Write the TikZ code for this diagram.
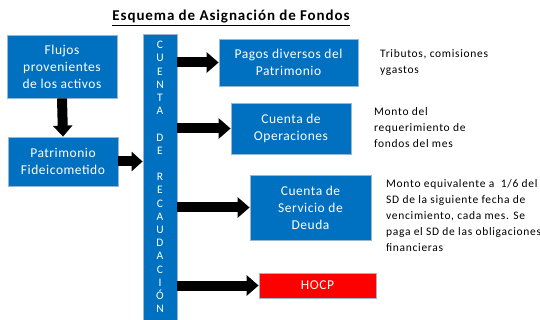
\documentclass[tikz,border=0pt]{standalone}
\usepackage{fontspec}
\setmainfont{Carlito}
\newfontfamily\widebox[LetterSpace=4]{Carlito}
\newfontfamily\widenote[LetterSpace=6]{Carlito}
\usetikzlibrary{arrows.meta}
\definecolor{boxblue}{HTML}{0070C0}
\definecolor{boxline}{HTML}{9DB6CF}
\begin{document}
\begin{tikzpicture}[x=1pt,y=-1pt,
  bluebox/.style={draw=boxline,line width=0.8pt,fill=boxblue,text=white,align=center,inner sep=0pt,
    font=\widebox\fontsize{13.5}{17}\selectfont},
  redbox/.style={draw=boxline,line width=0.8pt,fill=red,text=white,align=center,inner sep=0pt,
    font=\widebox\fontsize{13.5}{17}\selectfont},
  note/.style={anchor=north west,inner sep=0pt,align=left,font=\widenote\fontsize{11.5}{16}\selectfont},
  smallarrow/.style={line width=10pt,-{Triangle[length=11pt,width=19pt]}},
  bigarrow/.style={line width=10pt,-{Triangle[length=12pt,width=20pt]}},
]
\useasboundingbox (0,0) rectangle (540,320);
\node[font=\widenote\bfseries\fontsize{15}{17}\selectfont] (title) at (231,18) {\underline{Esquema de Asignación de Fondos}};
\node[bluebox,minimum width=110pt,minimum height=63pt] (flujos) at (62,66.5) {Flujos\\provenientes\\de los activos};
\node[bluebox,minimum width=110pt,minimum height=49pt] (patr) at (63,161.5) {Patrimonio\\Fideicometido};
\node[bluebox,minimum width=34pt,minimum height=288pt] (col) at (160,178) {};
\node[text=white,align=center,inner sep=0pt,font=\fontsize{11.5}{13.2}\selectfont] (coltext) at (160,177)
  {C\\U\\E\\N\\T\\A\\ \\D\\E\\ \\R\\E\\C\\A\\U\\D\\A\\C\\I\\Ó\\N};
\node[bluebox,minimum width=139pt,minimum height=47pt] (pagos) at (288.5,62.5) {Pagos diversos del\\Patrimonio};
\node[bluebox,minimum width=120pt,minimum height=51pt] (oper) at (291,128.5) {Cuenta de\\Operaciones};
\node[bluebox,minimum width=121pt,minimum height=65pt] (deuda) at (310.5,207.5) {Cuenta de\\Servicio de\\Deuda};
\node[redbox,minimum width=117pt,minimum height=25pt] (hocp) at (317.5,285.5) {HOCP};
\node[note] (n1) at (380,49) {Tributos, comisiones\\ygastos};
\node[note] (n2) at (374,107) {Monto del\\requerimiento de\\fondos del mes};
\node[note] (n3) at (386,179) {Monto equivalente a \ 1/6 del\\SD de la siguiente fecha de\\vencimiento, cada mes. Se\\paga el SD de las obligaciones\\financieras};
\draw[smallarrow] (flujos.south) -- (patr.north);
\draw[smallarrow] (patr.east) -- (col.west |- patr.east);
\draw[bigarrow] (col.east |- pagos.west) -- (pagos.west);
\draw[bigarrow] (col.east |- oper.west) -- (oper.west);
\draw[bigarrow] (col.east |- deuda.west) -- (deuda.west);
\draw[bigarrow] (col.east |- hocp.west) -- (hocp.west);
\end{tikzpicture}
\end{document}
